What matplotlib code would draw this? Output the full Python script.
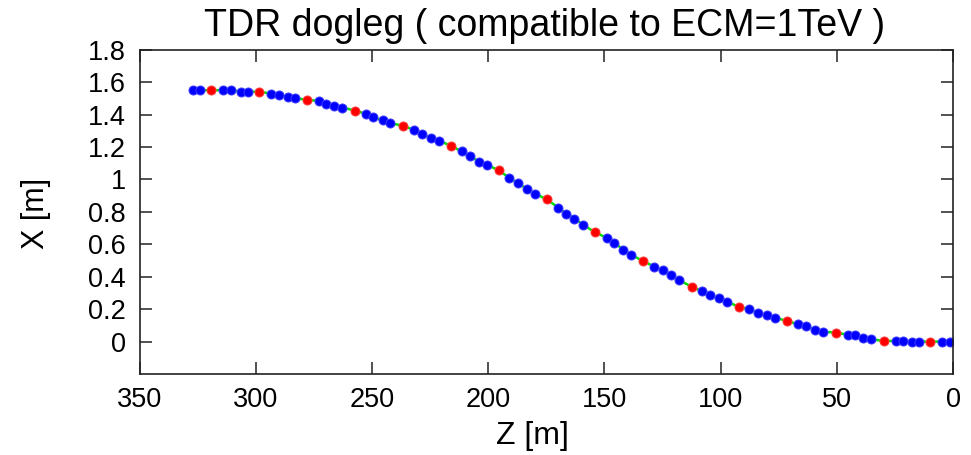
import matplotlib
matplotlib.use("Agg")
import matplotlib.pyplot as plt

# dogleg orbit: Z [m], X [m]
z_blue = [327.1, 324.0, 313.9, 310.6, 306.3, 303.2, 293.4, 290.0, 286.0, 283.1,
          272.6, 269.9, 266.2, 262.7, 252.5, 249.4, 245.4, 242.2, 231.9, 228.6,
          224.8, 221.1, 211.4, 207.8, 203.9, 200.6, 190.9, 187.3, 183.4, 179.8,
          169.8, 166.5, 162.9, 159.3, 149.0, 145.8, 141.8, 138.7, 128.5, 124.9,
          121.3, 117.8, 108.1, 104.5, 100.7, 97.4, 87.6, 84.0, 80.2, 76.6,
          66.6, 63.2, 59.4, 56.1, 45.3, 42.2, 38.6, 35.3, 24.7, 21.6,
          17.8, 14.5, 4.6, 1.3]
x_blue = [1.551, 1.551, 1.551, 1.551, 1.542, 1.542, 1.530, 1.522, 1.510, 1.502,
          1.485, 1.465, 1.454, 1.444, 1.405, 1.385, 1.364, 1.348, 1.306, 1.282,
          1.255, 1.239, 1.173, 1.142, 1.111, 1.091, 1.009, 0.978, 0.943, 0.911,
          0.825, 0.790, 0.759, 0.722, 0.640, 0.609, 0.568, 0.537, 0.462, 0.439,
          0.408, 0.379, 0.311, 0.287, 0.266, 0.246, 0.199, 0.178, 0.162, 0.148,
          0.106, 0.096, 0.071, 0.062, 0.043, 0.038, 0.022, 0.014, 0.004, 0.004,
          0.0, 0.0, 0.0, 0.0]

z_red = [319.2, 298.6, 278.1, 257.3, 236.5, 216.0, 195.3, 174.8,
         154.0, 133.2, 112.4, 92.1, 71.4, 50.5, 29.7, 9.9]
x_red = [1.551, 1.542, 1.491, 1.425, 1.331, 1.208, 1.056, 0.879,
         0.674, 0.496, 0.338, 0.215, 0.127, 0.055, 0.004, 0.0]

y_ticks = [0, 0.2, 0.4, 0.6, 0.8, 1, 1.2, 1.4, 1.6, 1.8]
y_tick_labels = ["0", "0.2", "0.4", "0.6", "0.8", "1", "1.2", "1.4", "1.6", "1.8"]
x_ticks = [350, 300, 250, 200, 150, 100, 50, 0]

plt.rcParams['font.family'] = ['Liberation Sans', 'DejaVu Sans']

fig = plt.figure(figsize=(9.71, 4.55), dpi=100)
ax = fig.add_axes([0.1437, 0.178, 0.9815 - 0.1437, 0.8905 - 0.178])

# orbit line through all points
pts = sorted(zip(z_blue + z_red, x_blue + x_red))
ax.plot([p[0] for p in pts], [p[1] for p in pts], color='#00e000', lw=1.8, zorder=1)
ax.plot(z_blue, x_blue, 'o', color='#0000ff', ms=6.5, mec='#3c3cff', mew=0.7, zorder=2)
ax.plot(z_red, x_red, 'o', color='#ff0000', ms=6.5, mec='#ff3c3c', mew=0.7, zorder=3)

ax.set_xlim(350, 0)
ax.set_ylim(-0.2, 1.8)
ax.set_xticks(x_ticks)
ax.set_xticklabels([str(t) for t in x_ticks])
ax.set_yticks(y_ticks)
ax.set_yticklabels(y_tick_labels)
ax.tick_params(direction='in', length=8.5, width=1.1, top=True, right=True,
               labelsize=19.5, color='#222222')
ax.tick_params(axis='y', pad=10)
ax.tick_params(axis='x', pad=9)

for s in ax.spines.values():
    s.set_linewidth(1.2)
    s.set_color('#222222')

fig.text(545 / 971, 1 - 26 / 455, "TDR dogleg ( compatible to ECM=1TeV )",
         fontsize=27, ha='center', va='center')
fig.text(532 / 971, 1 - 436 / 455, "Z [m]", fontsize=23, ha='center', va='center')
fig.text(36 / 971, 1 - 213 / 455, "X [m]", fontsize=22, ha='center', va='center',
         rotation=90)

fig.savefig("out.png", dpi=100)
